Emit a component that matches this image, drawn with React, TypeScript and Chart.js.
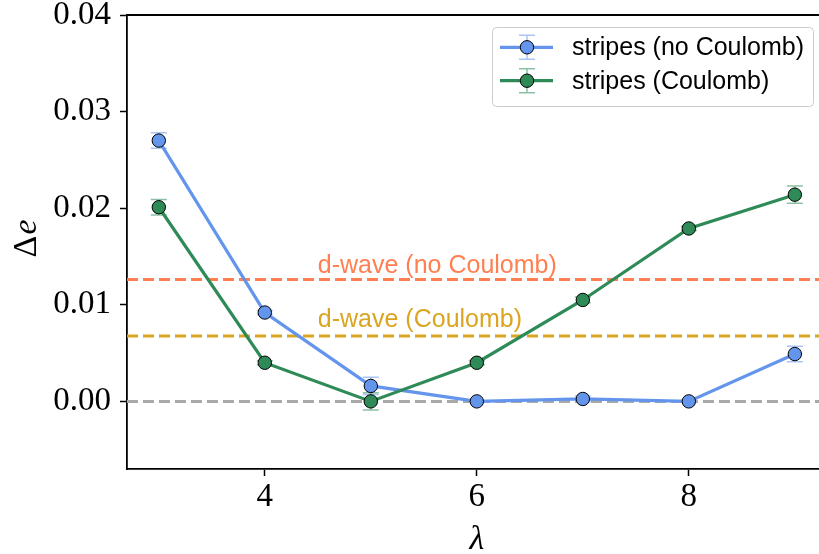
import React, { useEffect, useRef } from "react";
import { Chart, registerables } from "chart.js";

Chart.register(...registerables);

// stripe period λ
const lambdas = [3, 4, 5, 6, 7, 8, 9];

// energy difference Δe per stripe period, with error bars
const stripesNoCoulomb = [0.027, 0.0092, 0.0016, 0.0, 0.00025, 0.0, 0.0049];
const stripesNoCoulombErr = [0.0008, 0.0002, 0.0009, 0.0001, 0.0003, 0.0001, 0.0008];
const stripesCoulomb = [0.0201, 0.004, 0.0, 0.004, 0.0105, 0.0179, 0.0214];
const stripesCoulombErr = [0.0008, 0.0002, 0.0009, 0.0002, 0.0003, 0.0002, 0.0009];

// reference d-wave energies (horizontal lines)
const dWaveNoCoulomb = 0.01263;
const dWaveCoulomb = 0.00676;
const zeroLine = 0;

// annotation text anchors (λ, Δe) for the d-wave lines
const dWaveNoCoulombLabelAt = [4.5, 0.01324];
const dWaveCoulombLabelAt = [4.5, 0.00766];

const xTicks = [4, 6, 8];
const yTicks = [0, 0.01, 0.02, 0.03, 0.04];
const xRange = [2.7, 9.228];
const yRange = [-0.007, 0.04];

const BLUE = "#6495ED";
const GREEN = "#2E8B57";
const CORAL = "#FF7F50";
const GOLD = "#DAA520";
const GREY = "#A9A9A9";

const SERIF = "'Liberation Serif', 'DejaVu Serif', serif";
const SANS = "'Liberation Sans', Arial, Helvetica, sans-serif";
const TEXT_SIZE = 25;

const errorSets = [
  { values: stripesNoCoulomb, errs: stripesNoCoulombErr, color: "rgba(100,149,237,0.55)" },
  { values: stripesCoulomb, errs: stripesCoulombErr, color: "rgba(46,139,87,0.55)" },
];

const pts = (ys: number[]) => lambdas.map((x, i) => ({ x, y: ys[i] }));
const hline = (y: number) => [
  { x: 2.7, y },
  { x: 9.3, y },
];

const errorBarPlugin = {
  id: "errorBars",
  beforeDatasetsDraw(chart: any) {
    const { ctx, scales } = chart;
    const xs = scales.x;
    const ys = scales.y;
    ctx.save();
    for (const set of errorSets) {
      ctx.strokeStyle = set.color;
      ctx.lineWidth = 1.5;
      lambdas.forEach((lam, i) => {
        const px = xs.getPixelForValue(lam);
        const top = ys.getPixelForValue(set.values[i] + set.errs[i]);
        const bot = ys.getPixelForValue(set.values[i] - set.errs[i]);
        ctx.beginPath();
        ctx.moveTo(px, top);
        ctx.lineTo(px, bot);
        ctx.moveTo(px - 8, top);
        ctx.lineTo(px + 8, top);
        ctx.moveTo(px - 8, bot);
        ctx.lineTo(px + 8, bot);
        ctx.stroke();
      });
    }
    ctx.restore();
  },
};

const decorPlugin = {
  id: "decor",
  afterDatasetsDraw(chart: any) {
    const { ctx, scales } = chart;
    const xs = scales.x;
    const ys = scales.y;
    ctx.save();
    // d-wave annotations
    ctx.font = `${TEXT_SIZE}px ${SANS}`;
    ctx.textAlign = "left";
    ctx.textBaseline = "alphabetic";
    ctx.fillStyle = CORAL;
    ctx.fillText(
      "d-wave (no Coulomb)",
      xs.getPixelForValue(dWaveNoCoulombLabelAt[0]),
      ys.getPixelForValue(dWaveNoCoulombLabelAt[1])
    );
    ctx.fillStyle = GOLD;
    ctx.fillText(
      "d-wave (Coulomb)",
      xs.getPixelForValue(dWaveCoulombLabelAt[0]),
      ys.getPixelForValue(dWaveCoulombLabelAt[1])
    );
    ctx.restore();
  },
  afterDraw(chart: any) {
    const { ctx, scales, chartArea } = chart;
    const xs = scales.x;
    ctx.save();
    // top spine
    ctx.strokeStyle = "#000";
    ctx.lineWidth = 1.8;
    ctx.beginPath();
    ctx.moveTo(chartArea.left - 0.9, chartArea.top);
    ctx.lineTo(chartArea.right + 2, chartArea.top);
    ctx.stroke();

    // axis titles
    ctx.fillStyle = "#000";
    ctx.textBaseline = "alphabetic";
    ctx.font = `italic 34px ${SERIF}`;
    ctx.textAlign = "center";
    ctx.fillText("λ", xs.getPixelForValue(6), 549);

    const midY = (chartArea.top + chartArea.bottom) / 2 - 3;
    ctx.translate(36, midY);
    ctx.rotate(-Math.PI / 2);
    ctx.font = `34px ${SERIF}`;
    const wD = ctx.measureText("Δ").width;
    ctx.font = `italic 34px ${SERIF}`;
    const wE = ctx.measureText("e").width;
    const start = -(wD + wE) / 2;
    ctx.textAlign = "left";
    ctx.font = `34px ${SERIF}`;
    ctx.fillText("Δ", start, 0);
    ctx.font = `italic 34px ${SERIF}`;
    ctx.fillText("e", start + wD + 1, 0);
    ctx.setTransform(1, 0, 0, 1, 0, 0);

    // legend
    const bx = 492, by = 27, bw = 321, bh = 79;
    ctx.beginPath();
    ctx.roundRect(bx + 0.5, by + 0.5, bw, bh, 4);
    ctx.fillStyle = "rgba(255,255,255,0.8)";
    ctx.fill();
    ctx.strokeStyle = "#cccccc";
    ctx.lineWidth = 1;
    ctx.stroke();

    const entries = [
      { label: "stripes (no Coulomb)", color: BLUE, err: "rgba(100,149,237,0.55)", y: 47.3 },
      { label: "stripes (Coulomb)", color: GREEN, err: "rgba(46,139,87,0.55)", y: 80.7 },
    ];
    for (const e of entries) {
      ctx.strokeStyle = e.err;
      ctx.lineWidth = 1.5;
      ctx.beginPath();
      ctx.moveTo(527, e.y - 12);
      ctx.lineTo(527, e.y + 12);
      ctx.moveTo(519, e.y - 12);
      ctx.lineTo(535, e.y - 12);
      ctx.moveTo(519, e.y + 12);
      ctx.lineTo(535, e.y + 12);
      ctx.stroke();
      ctx.strokeStyle = e.color;
      ctx.lineWidth = 3.2;
      ctx.beginPath();
      ctx.moveTo(500, e.y);
      ctx.lineTo(553, e.y);
      ctx.stroke();
      ctx.beginPath();
      ctx.arc(527, e.y, 6.7, 0, Math.PI * 2);
      ctx.fillStyle = e.color;
      ctx.fill();
      ctx.strokeStyle = "#000";
      ctx.lineWidth = 1;
      ctx.stroke();
      ctx.fillStyle = "#000";
      ctx.font = `${TEXT_SIZE}px ${SANS}`;
      ctx.textAlign = "left";
      ctx.textBaseline = "middle";
      ctx.fillText(e.label, 572, e.y + 1);
    }
    ctx.restore();
  },
};

export default function App() {
  const canvasRef = useRef<HTMLCanvasElement | null>(null);

  useEffect(() => {
    document.body.style.margin = "0";
    const canvas = canvasRef.current;
    if (!canvas) return;

    const markerLine = (label: string, ys: number[], color: string, order: number) => ({
      label,
      data: pts(ys),
      borderColor: color,
      backgroundColor: color,
      borderWidth: 3.2,
      pointRadius: 6.7,
      pointBorderWidth: 1,
      pointBorderColor: "#000",
      pointBackgroundColor: color,
      tension: 0,
      order,
    });

    const dashed = (label: string, y: number, color: string) => ({
      label,
      data: hline(y),
      borderColor: color,
      borderWidth: 3,
      borderDash: [11, 5],
      pointRadius: 0,
      order: 5,
    });

    const chart = new Chart(canvas, {
      type: "line",
      data: {
        datasets: [
          markerLine("stripes (Coulomb)", stripesCoulomb, GREEN, 0),
          markerLine("stripes (no Coulomb)", stripesNoCoulomb, BLUE, 1),
          dashed("d-wave (no Coulomb)", dWaveNoCoulomb, CORAL),
          dashed("d-wave (Coulomb)", dWaveCoulomb, GOLD),
          dashed("zero", zeroLine, GREY),
        ] as any,
      },
      options: {
        responsive: false,
        animation: false,
        layout: { autoPadding: false, padding: { top: 15, right: 0, left: 0, bottom: 0 } },
        plugins: {
          legend: { display: false },
          tooltip: { enabled: false },
        },
        scales: {
          x: {
            type: "linear",
            min: xRange[0],
            max: xRange[1],
            afterBuildTicks: (s: any) => {
              s.ticks = xTicks.map((v) => ({ value: v }));
            },
            afterFit: (s: any) => {
              s.height = 85;
              s.paddingLeft = 0;
              s.paddingRight = 0;
            },
            grid: {
              drawOnChartArea: false,
              drawTicks: true,
              tickLength: 7,
              tickWidth: 1.5,
              tickColor: "#000",
            },
            border: { display: true, color: "#000", width: 1.8 },
            ticks: {
              color: "#000",
              font: { family: SERIF, size: 33 },
              padding: 2,
              maxRotation: 0,
              callback: (v: any) => String(v),
            },
          },
          y: {
            type: "linear",
            min: yRange[0],
            max: yRange[1],
            afterBuildTicks: (s: any) => {
              s.ticks = yTicks.map((v) => ({ value: v }));
            },
            afterFit: (s: any) => {
              s.width = 127;
              s.paddingTop = 0;
              s.paddingBottom = 0;
            },
            grid: {
              drawOnChartArea: false,
              drawTicks: true,
              tickLength: 7,
              tickWidth: 1.5,
              tickColor: "#000",
            },
            border: { display: true, color: "#000", width: 1.8 },
            ticks: {
              color: "#000",
              font: { family: SERIF, size: 33 },
              padding: 9,
              callback: (v: any) => Number(v).toFixed(2),
            },
          },
        },
      },
      plugins: [errorBarPlugin, decorPlugin],
    });

    return () => chart.destroy();
  }, []);

  return (
    <div style={{ width: 819, height: 554, overflow: "hidden" }}>
      <canvas ref={canvasRef} width={819} height={554} style={{ display: "block" }} />
    </div>
  );
}
